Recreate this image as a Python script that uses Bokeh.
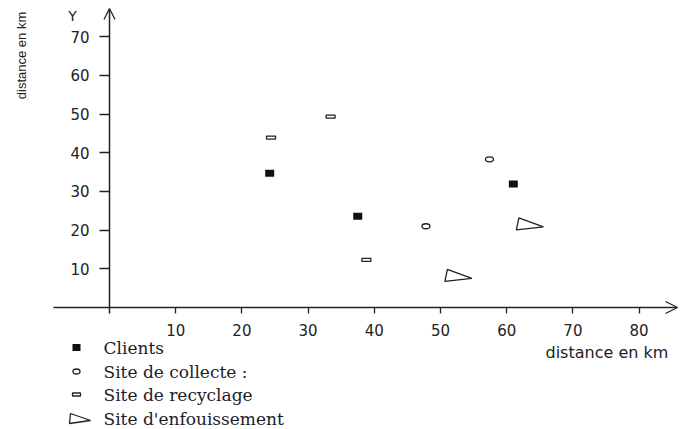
import numpy as np
from bokeh.plotting import figure
from bokeh.models import Range1d, LinearAxis, FixedTicker, Arrow, OpenHead
from bokeh.core.properties import value
from bokeh.embed import file_html
from bokeh.resources import INLINE

# ---------------- data ----------------
clients_x = [24.2, 37.5, 61.0]
clients_y = [34.7, 23.6, 31.9]
collecte_x = [57.4, 47.8]
collecte_y = [38.3, 21.0]
recyclage_x = [24.4, 33.4, 38.8]
recyclage_y = [43.9, 49.3, 12.3]
enfouissement_x = [63.5, 52.7]
enfouissement_y = [21.6, 8.3]
x_ticks = [10, 20, 30, 40, 50, 60, 70, 80]
y_ticks = [10, 20, 30, 40, 50, 60, 70]
legend_labels = ["Clients", "Site de collecte :", "Site de recyclage", "Site d'enfouissement"]
axis_title = "distance en km"

# ---------------- layout ----------------
W, H = 696, 429
OFF = 0                      # picture starts at the canvas origin
X0, XS = 109.0, 6.62         # pixel of x=0, pixels per unit
Y0, YS = 307.0, 3.87         # pixel of y=0, pixels per unit


def px2x(px):
    return (px - X0) / XS


def py2y(py):
    return (Y0 - py) / YS


INK = "#222222"

p = figure(width=W, height=H,
           x_range=Range1d(px2x(OFF), px2x(OFF + W)),
           y_range=Range1d(py2y(OFF + H), py2y(OFF)),
           x_axis_type=None, y_axis_type=None,
           output_backend="svg", toolbar_location=None,
           min_border=0, min_border_left=0, min_border_right=0,
           min_border_top=0, min_border_bottom=0)
p.outline_line_color = None
p.background_fill_color = "white"
p.border_fill_color = "white"
p.extra_x_ranges = {"px": Range1d(OFF, OFF + W)}
p.extra_y_ranges = {"px": Range1d(OFF + H, OFF)}

tick_font = value("DejaVu Sans")

xaxis = LinearAxis(fixed_location=0, ticker=FixedTicker(ticks=x_ticks),
                   axis_line_color=None, major_tick_in=0, major_tick_out=6,
                   major_tick_line_color=INK, major_tick_line_width=1.3,
                   minor_tick_line_color=None,
                   major_label_text_font="DejaVu Sans",
                   major_label_text_font_size="15px",
                   major_label_text_color=INK, major_label_standoff=10)
p.add_layout(xaxis, "below")

yaxis = LinearAxis(fixed_location=0, ticker=FixedTicker(ticks=y_ticks),
                   axis_line_color=None, major_tick_in=0, major_tick_out=10,
                   major_tick_line_color=INK, major_tick_line_width=1.3,
                   minor_tick_line_color=None,
                   major_label_text_font="DejaVu Sans",
                   major_label_text_font_size="15px",
                   major_label_text_color=INK, major_label_standoff=10)
p.add_layout(yaxis, "left")

# axis lines with open arrow heads
p.add_layout(Arrow(end=OpenHead(size=12, line_width=1.3, line_color=INK),
                   x_start=px2x(53), y_start=0, x_end=px2x(677), y_end=0,
                   line_width=1.5, line_color=INK))
p.add_layout(Arrow(end=OpenHead(size=11, line_width=1.3, line_color=INK),
                   x_start=0, y_start=py2y(313), x_end=0, y_end=py2y(8),
                   line_width=1.5, line_color=INK))

# ---------------- marks ----------------
p.rect(clients_x, clients_y, width=9, height=7, width_units="screen",
       height_units="screen", fill_color="#111111", line_color=None)
p.ellipse(collecte_x, collecte_y, width=8, height=5, width_units="screen",
          height_units="screen", fill_color="white", line_color=INK, line_width=1.3)
p.rect(recyclage_x, recyclage_y, width=9, height=3, width_units="screen",
       height_units="screen", fill_color="white", line_color=INK, line_width=1.3)

TRI_DX = [-11.0, -13.5, 13.5]
TRI_DY = [-6.0, 6.0, 3.0]
tri_xs = [[cx + d / XS for d in TRI_DX] for cx in enfouissement_x]
tri_ys = [[cy - d / YS for d in TRI_DY] for cy in enfouissement_y]
p.patches(tri_xs, tri_ys, fill_color="white", fill_alpha=0.0,
          line_color=INK, line_width=1.3)

# ---------------- texts ----------------
p.text(x=[72], y=[15], text=["Y"], text_font=tick_font, text_font_size="14px",
       text_align="center", text_baseline="middle", text_color=INK,
       x_range_name="px", y_range_name="px")
p.text(x=[21], y=[55], text=[axis_title], angle=np.pi / 2,
       text_font=value("Liberation Sans"), text_font_size="13px",
       text_align="center", text_baseline="middle", text_color=INK,
       x_range_name="px", y_range_name="px")
p.text(x=[545], y=[352], text=[axis_title], text_font=tick_font,
       text_font_size="16px", text_align="left", text_baseline="middle",
       text_color=INK, x_range_name="px", y_range_name="px")

# ---------------- legend ----------------
LEG_X, LEG_TX = 76, 103
LEG_Y = [347, 371, 394, 418]
p.text(x=[LEG_TX] * 4, y=LEG_Y, text=legend_labels,
       text_font=value("DejaVu Serif"), text_font_size="17px",
       text_align="left", text_baseline="middle", text_color="#1c1c2a",
       x_range_name="px", y_range_name="px")
p.rect([LEG_X], [LEG_Y[0]], width=8, height=7, width_units="screen",
       height_units="screen", fill_color="#111111", line_color=None,
       x_range_name="px", y_range_name="px")
p.ellipse([LEG_X], [LEG_Y[1]], width=7, height=5, width_units="screen",
          height_units="screen", fill_color="white", line_color=INK, line_width=1.3,
          x_range_name="px", y_range_name="px")
p.rect([LEG_X], [LEG_Y[2]], width=8, height=3, width_units="screen",
       height_units="screen", fill_color="white", line_color=INK, line_width=1.3,
       x_range_name="px", y_range_name="px")
LTRI_DX = [-9.0, -10.0, 11.0]
LTRI_DY = [-5.0, 5.0, 2.0]
p.patches([[LEG_X + 3 + d for d in LTRI_DX]], [[LEG_Y[3] + d for d in LTRI_DY]],
          fill_alpha=0.0, line_color=INK, line_width=1.3,
          x_range_name="px", y_range_name="px")

open("out.html", "w").write(file_html(p, INLINE))
